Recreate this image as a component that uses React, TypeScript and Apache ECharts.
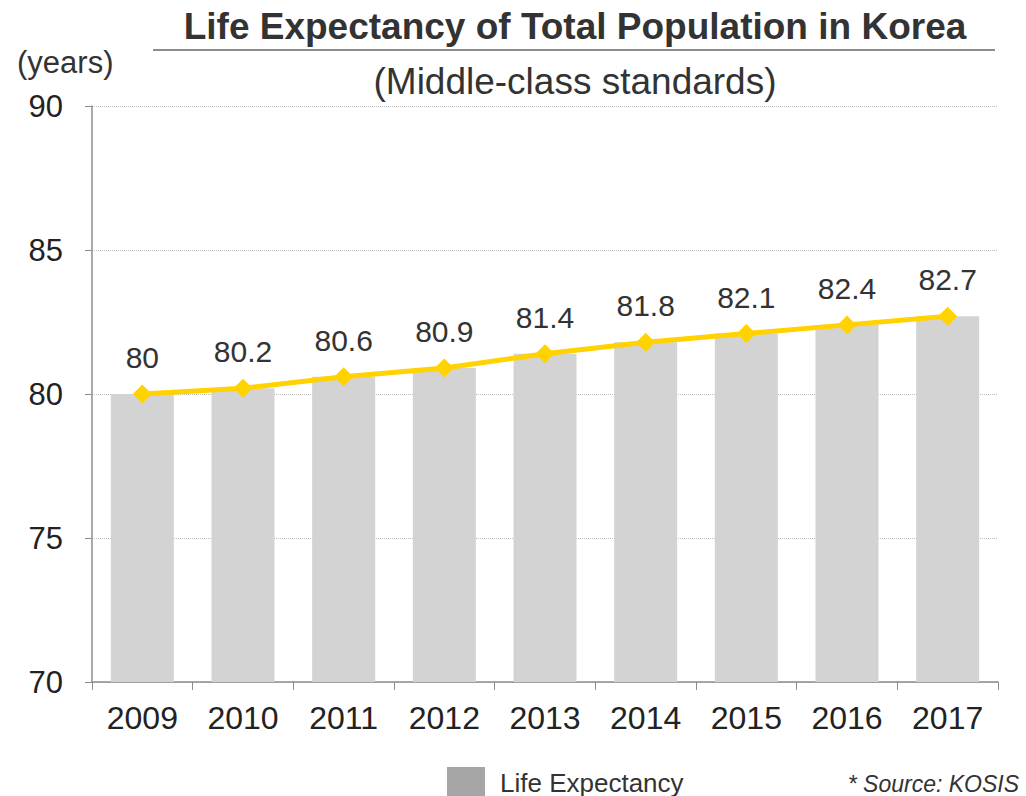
import React, { useEffect, useRef } from "react";
import * as echarts from "echarts";

const categories = ["2009", "2010", "2011", "2012", "2013", "2014", "2015", "2016", "2017"];
const lifeExpectancy = [80, 80.2, 80.6, 80.9, 81.4, 81.8, 82.1, 82.4, 82.7];
const yTicks = [70, 75, 80, 85, 90];

export default function App() {
  const ref = useRef<HTMLDivElement>(null);
  useEffect(() => {
    if (!ref.current) return;
    const chart = echarts.init(ref.current, null, { renderer: "svg" });
    const font = "'Liberation Sans', Arial, sans-serif";
    chart.setOption({
      animation: false,
      backgroundColor: "#ffffff",
      textStyle: { fontFamily: font },
      grid: { left: 92, right: 28, top: 106, bottom: 114, containLabel: false },
      title: [
        {
          text: "Life Expectancy of Total Population in Korea",
          left: 570,
          top: 3,
          textAlign: "center",
          textStyle: { fontFamily: font, fontSize: 37, fontWeight: "bold", color: "#333333" },
        },
        {
          text: "(Middle-class standards)",
          left: 570,
          top: 58,
          textAlign: "center",
          textStyle: { fontFamily: font, fontSize: 37, fontWeight: "normal", color: "#333333" },
        },
        {
          text: "(years)",
          left: 12,
          top: 42,
          textStyle: { fontFamily: font, fontSize: 31, fontWeight: "normal", color: "#333333" },
        },
        {
          text: "* Source: KOSIS",
          right: 2,
          top: 767,
          textStyle: { fontFamily: font, fontSize: 23, fontWeight: "normal", fontStyle: "italic", color: "#333333" },
        },
      ],
      graphic: [
        {
          type: "line",
          shape: { x1: 153, y1: 50, x2: 995, y2: 50 },
          style: { stroke: "#8c8c8c", lineWidth: 2 },
        },
      ],
      legend: {
        data: [{ name: "Life Expectancy", itemStyle: { color: "#a6a6a6" } }],
        left: 442,
        top: 762,
        itemWidth: 38,
        itemHeight: 31,
        itemGap: 10,
        icon: "rect",
        textStyle: { fontFamily: font, fontSize: 26, color: "#333333", padding: [0, 0, 0, 10] },
      },
      xAxis: {
        type: "category",
        data: categories,
        boundaryGap: true,
        axisLine: { lineStyle: { color: "#8c8c8c", width: 1.5 } },
        axisTick: { show: true, length: 8, alignWithLabel: false, lineStyle: { color: "#8c8c8c" } },
        axisLabel: { fontSize: 32, color: "#222222", margin: 20, fontFamily: font },
      },
      yAxis: {
        type: "value",
        min: 70,
        max: 90,
        interval: 5,
        axisLine: { show: true, lineStyle: { color: "#8c8c8c", width: 1.5 } },
        axisTick: { show: true, length: 7, lineStyle: { color: "#8c8c8c" } },
        axisLabel: {
          fontSize: 31,
          color: "#222222",
          margin: 29,
          fontFamily: font,
          formatter: (v: number) => (yTicks.includes(v) ? String(v) : ""),
        },
        splitLine: { show: true, lineStyle: { color: "#bdbdbd", type: "dotted", width: 1 } },
      },
      series: [
        {
          name: "Life Expectancy",
          type: "bar",
          data: lifeExpectancy,
          barWidth: 63,
          itemStyle: { color: "#d3d3d3" },
          z: 1,
        },
        {
          name: "line",
          type: "line",
          data: lifeExpectancy,
          symbol: "diamond",
          symbolSize: 19,
          lineStyle: { color: "#ffd200", width: 5 },
          itemStyle: { color: "#ffd200" },
          label: {
            show: true,
            position: "top",
            distance: 12,
            fontSize: 30,
            color: "#333333",
            fontFamily: font,
          },
          z: 3,
        },
      ],
    });
    return () => chart.dispose();
  }, []);
  return (
    <div
      ref={ref}
      style={{ position: "fixed", left: 0, top: 0, width: 1026, height: 796 }}
    />
  );
}
